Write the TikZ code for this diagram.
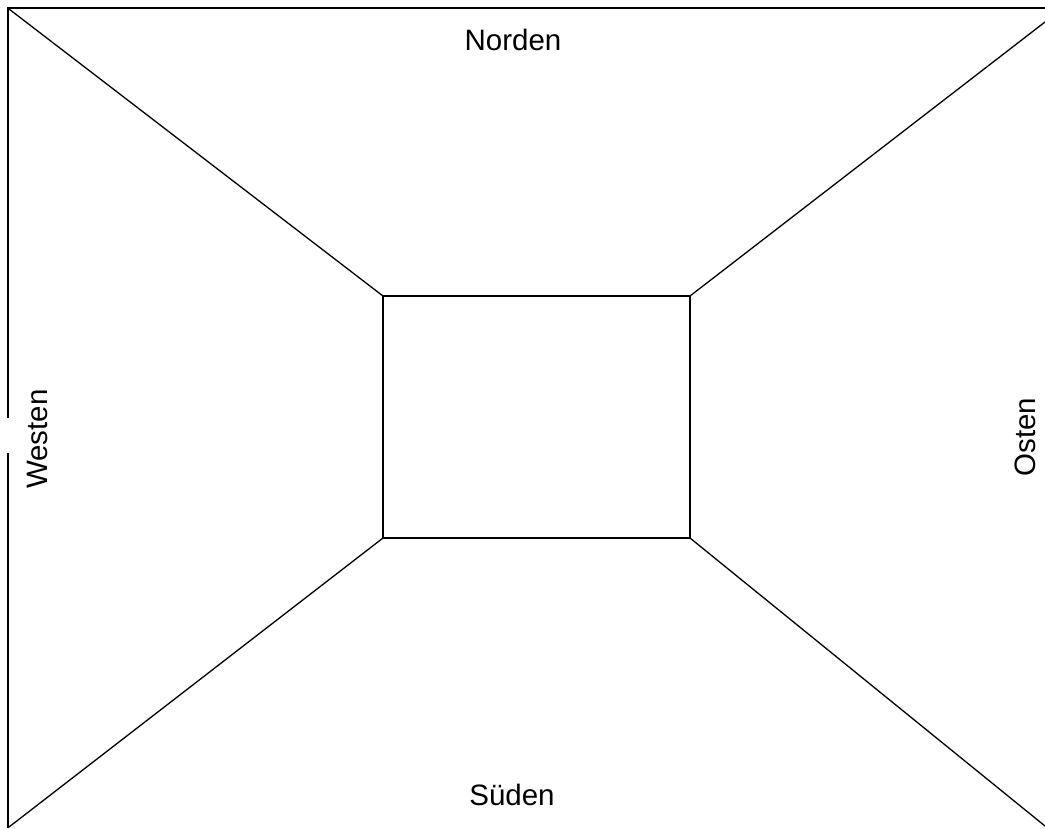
\documentclass[tikz,border=0pt]{standalone}
\usepackage{fontspec}
\setmainfont{Liberation Sans}
\tikzset{
  label/.style={font=\fontsize{29.5}{31}\selectfont, inner sep=0pt},
  frame/.style={line width=2pt},
  diag/.style={line width=1.3pt},
  room/.style={line width=2pt}
}
\begin{document}
\begin{tikzpicture}[x=1pt,y=-1pt]
\useasboundingbox[fill=white] (0,0) rectangle (1045,828);
% frame (top and left only)
\coordinate (tl) at (8,8);
\coordinate (tr) at (1045,8);
\coordinate (bl) at (8,828);
\coordinate (gapA) at (8,418);
\coordinate (gapB) at (8,453);
\draw[frame] (tr) -- (tl) -- (gapA);
\draw[frame] (gapB) -- (bl);
% inner room
\coordinate (r1) at (383,296);
\coordinate (r2) at (690,296);
\coordinate (r3) at (690,538);
\coordinate (r4) at (383,538);
\draw[room] (r1) -- (r2) -- (r3) -- (r4) -- cycle;
% diagonals
\coordinate (c1) at (9,9);
\coordinate (c2) at (1045,22);
\coordinate (c3) at (1045,826);
\coordinate (c4) at (9,827);
\draw[diag] (c1) -- (r1);
\draw[diag] (c2) -- (r2);
\draw[diag] (c3) -- (r3);
\draw[diag] (c4) -- (r4);
% labels
\node[label] (n) at (513,40) {Norden};
\node[label] (s) at (512,795) {Süden};
\node[label, rotate=90] (w) at (37,439) {Westen};
\node[label, rotate=90] (o) at (1025,437) {Osten};
\end{tikzpicture}
\end{document}
